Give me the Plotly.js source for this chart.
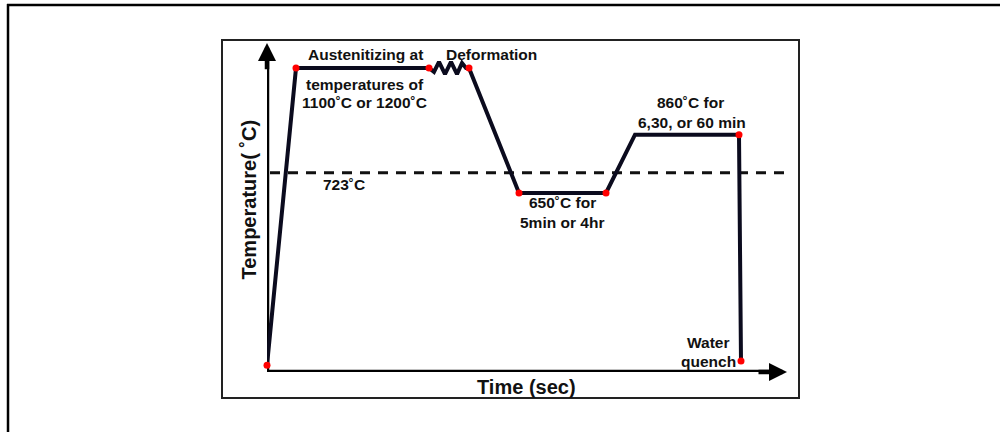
<!DOCTYPE html>
<html>
<head>
<meta charset="utf-8">
<script src="https://cdn.plot.ly/plotly-3.0.1.min.js"></script>
<style>
  html, body { margin: 0; padding: 0; background: #ffffff; }
  #chart { width: 1000px; height: 432px; }
</style>
</head>
<body>
<div id="chart"></div>
<script>
// Heat-treatment schedule (time in arbitrary units, temperature in ˚C)
const time = [0, 2.9, 16.2, 16.7, 17.2, 17.8, 18.4, 19.0, 19.5, 19.9, 20.2, 25.2, 33.9, 36.8, 47.2, 47.4];
const temperature = [30, 1100, 1100, 1086, 1122, 1078, 1122, 1078, 1118, 1100, 1100, 650, 650, 860, 860, 45];

// Key points marked with red dots
const keyTime = [0, 2.9, 16.2, 20.2, 25.2, 33.9, 47.2, 47.4];
const keyTemp = [30, 1100, 1100, 1100, 650, 650, 860, 45];

// A1 critical temperature reference line
const criticalTime = [0.3, 52.1];
const criticalTemp = [723, 723];

// Text labels
const labelText = [
  'Austenitizing at', 'temperatures of', '1100˚C or 1200˚C',
  'Deformation', '723˚C', '650˚C for', '5min or 4hr',
  '860˚C for', '6,30, or 60 min', 'Water', 'quench'
];
const labelTime = [9.8, 9.8, 9.7, 22.45, 7.7, 29.5, 29.5, 42.3, 42.5, 44.1, 44.1];
const labelTemp = [1150, 1042, 974, 1147, 682, 614, 542, 974, 902, 113, 45];

const xTitle = 'Time (sec)';
const yTitle = 'Temperature( ˚C)';

// Axis extents (time/temperature units)
const axisTimeEnd = 52.0;
const axisTempEnd = 1190;
const axisTempBase = 5.5;

const FONT = 'Liberation Sans, Arial, Helvetica, sans-serif';
const INK = '#0b0b1e';

const traces = [
  {
    x: criticalTime, y: criticalTemp, mode: 'lines', type: 'scatter',
    line: { color: '#111111', width: 3, dash: '10px,8px' },
    cliponaxis: false, hoverinfo: 'skip'
  },
  {
    x: time, y: temperature, mode: 'lines', type: 'scatter',
    line: { color: INK, width: 4 },
    cliponaxis: false, hoverinfo: 'skip'
  },
  {
    x: keyTime, y: keyTemp, mode: 'markers', type: 'scatter',
    marker: { color: '#ff0000', size: 7, line: { width: 0 } },
    cliponaxis: false, hoverinfo: 'skip'
  }
];

const annotations = labelText.map((t, i) => ({
  x: labelTime[i], y: labelTemp[i], xref: 'x', yref: 'y',
  text: t, showarrow: false, xanchor: 'center', yanchor: 'middle',
  font: { family: FONT, size: 15.5, color: '#111111', weight: 'bold' }
}));

// axis arrow heads (short arrows at the tips)
annotations.push({
  x: 0, y: axisTempEnd, ax: 0, ay: axisTempEnd - 100, xref: 'x', yref: 'y', axref: 'x', ayref: 'y',
  text: '', showarrow: true, arrowhead: 2, arrowsize: 0.8, arrowwidth: 4.5,
  arrowcolor: '#000000', standoff: 0, startstandoff: 0
});
annotations.push({
  x: axisTimeEnd, y: axisTempBase, ax: axisTimeEnd - 3, ay: axisTempBase, xref: 'x', yref: 'y', axref: 'x', ayref: 'y',
  text: '', showarrow: true, arrowhead: 2, arrowsize: 0.8, arrowwidth: 4.5,
  arrowcolor: '#000000', standoff: 0, startstandoff: 0
});

// axis titles
annotations.push({
  xref: 'paper', yref: 'paper', x: 0.4971, y: -0.0452,
  text: xTitle, showarrow: false, xanchor: 'center', yanchor: 'middle',
  font: { family: FONT, size: 20, color: '#111111', weight: 'bold' }
});
annotations.push({
  xref: 'paper', yref: 'paper', x: -0.0344, y: 0.5196, textangle: -90,
  text: yTitle, showarrow: false, xanchor: 'center', yanchor: 'middle',
  font: { family: FONT, size: 20, color: '#111111', weight: 'bold' }
});

const shapes = [
  // inner frame
  { type: 'rect', xref: 'paper', yref: 'paper', x0: -0.08604, x1: 1.01721, y0: -0.07831, y1: 1.0,
    line: { color: '#222222', width: 2 }, fillcolor: 'rgba(0,0,0,0)', layer: 'below' },
  // outer frame (top and left edges)
  { type: 'line', xref: 'paper', yref: 'paper', x0: -0.4971, x1: 1.45, y0: 1.1054, y1: 1.1054,
    line: { color: '#000000', width: 2.5 } },
  { type: 'line', xref: 'paper', yref: 'paper', x0: -0.4952, x1: -0.4952, y0: 1.1084, y1: -0.21,
    line: { color: '#000000', width: 2.5 } },
  // axis lines (below the traces so the origin dot stays visible)
  { type: 'line', xref: 'x', yref: 'y', x0: 0, x1: 0, y0: 0, y1: axisTempEnd - 40,
    line: { color: '#000000', width: 4.5 }, layer: 'below' },
  { type: 'line', xref: 'x', yref: 'y', x0: -0.2, x1: axisTimeEnd - 1, y0: axisTempBase, y1: axisTempBase,
    line: { color: '#000000', width: 4.5 }, layer: 'below' }
];

const layout = {
  width: 1000, height: 432,
  margin: { l: 267, r: 210, t: 40, b: 60, pad: 0 },
  paper_bgcolor: '#ffffff', plot_bgcolor: 'rgba(0,0,0,0)',
  showlegend: false,
  xaxis: { range: [0, 52.3], visible: false, fixedrange: true },
  yaxis: { range: [5.5, 1200.7], visible: false, fixedrange: true },
  annotations: annotations,
  shapes: shapes
};

Plotly.newPlot('chart', traces, layout, { displayModeBar: false, staticPlot: true });
</script>
</body>
</html>
